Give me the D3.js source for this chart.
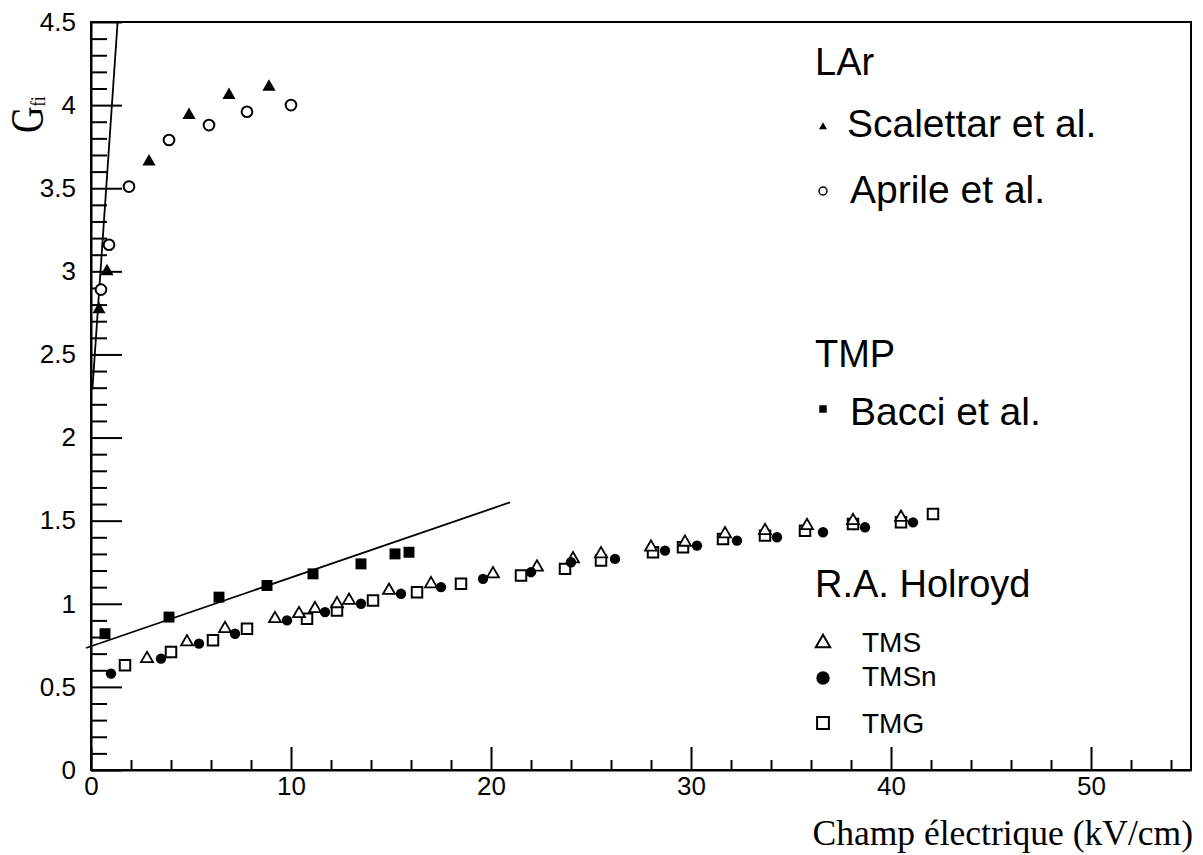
<!DOCTYPE html>
<html>
<head>
<meta charset="utf-8">
<script src="https://cdn.jsdelivr.net/npm/d3@7"></script>
<style>
  body { margin: 0; background: #fff; }
  svg { display: block; }
  .tick text { font-family: "Liberation Sans", Arial, sans-serif; font-size: 26px; fill: #000; }
  .legend { font-family: "Liberation Sans", Arial, sans-serif; fill: #000; }
</style>
</head>
<body>
<div id="chart"></div>
<script>
// LAr - Scalettar et al. (filled triangles)
const scalettarX = [0.4, 0.8, 2.9, 4.9, 6.9, 8.9];
const scalettarY = [2.77, 3.0, 3.66, 3.94, 4.06, 4.11];

// LAr - Aprile et al. (open circles)
const aprileX = [0.5, 0.9, 1.9, 3.9, 5.9, 7.8, 10.0];
const aprileY = [2.89, 3.16, 3.51, 3.79, 3.88, 3.96, 4.0];

// TMP - Bacci et al. (filled squares)
const bacciX = [0.7, 3.9, 6.4, 8.8, 11.1, 13.5, 15.2, 15.9];
const bacciY = [0.82, 0.92, 1.04, 1.11, 1.18, 1.24, 1.30, 1.31];

// R.A. Holroyd - TMS (open triangles)
const tmsX = [2.8, 4.8, 6.7, 9.2, 10.4, 11.2, 12.3, 12.9, 14.9, 17.0, 20.1, 22.3, 24.1, 25.5, 28.0, 29.7, 31.7, 33.7, 35.8, 38.1, 40.5];
const tmsY = [0.67, 0.77, 0.85, 0.91, 0.94, 0.97, 1.00, 1.02, 1.08, 1.12, 1.18, 1.22, 1.27, 1.30, 1.34, 1.37, 1.42, 1.44, 1.47, 1.50, 1.52];

// R.A. Holroyd - TMSn (filled circles)
const tmsnX = [1.0, 3.5, 5.4, 7.2, 9.8, 11.7, 13.5, 15.5, 17.5, 19.6, 22.0, 24.0, 26.2, 28.7, 30.3, 32.3, 34.3, 36.6, 38.7, 41.1];
const tmsnY = [0.58, 0.67, 0.76, 0.82, 0.90, 0.95, 1.00, 1.06, 1.10, 1.15, 1.19, 1.25, 1.27, 1.32, 1.35, 1.38, 1.40, 1.43, 1.46, 1.49];

// R.A. Holroyd - TMG (open squares)
const tmgX = [1.7, 4.0, 6.1, 7.8, 10.8, 12.3, 14.1, 16.3, 18.5, 21.5, 23.7, 25.5, 28.1, 29.6, 31.6, 33.7, 35.7, 38.1, 40.5, 42.1];
const tmgY = [0.63, 0.71, 0.78, 0.85, 0.91, 0.96, 1.02, 1.07, 1.12, 1.17, 1.21, 1.26, 1.31, 1.34, 1.39, 1.41, 1.44, 1.48, 1.49, 1.54];

// fitted straight lines (end points)
const larLine = [[0.07, 2.29], [1.33, 4.5]];
const tmpLine = [[-0.25, 0.734], [20.95, 1.61]];

// axis ticks
const xMajor = [0, 10, 20, 30, 40, 50];
const yMajor = [0, 0.5, 1, 1.5, 2, 2.5, 3, 3.5, 4, 4.5];
const xMinor = d3.range(2, 55, 2).filter(d => d % 10 !== 0);
const yMinor = d3.range(1, 45).map(d => d / 10).filter(d => Math.round(d * 10) % 5 !== 0);

const width = 1203, height = 855;
const margin = { top: 22, right: 12, bottom: 85, left: 91 };

const svg = d3.select("#chart").append("svg")
    .attr("width", width)
    .attr("height", height);

const x = d3.scaleLinear().domain([0, 55]).range([margin.left, width - margin.right]);
const y = d3.scaleLinear().domain([0, 4.5]).range([height - margin.bottom, margin.top]);

const zip = (xs, ys) => xs.map((d, i) => [d, ys[i]]);

// frame
svg.append("rect")
    .attr("x", x(0)).attr("y", y(4.5))
    .attr("width", x(55) - x(0)).attr("height", y(0) - y(4.5))
    .attr("fill", "none").attr("stroke", "#000").attr("stroke-width", 2);

// minor ticks
svg.append("g")
    .attr("transform", `translate(0,${y(0)})`)
    .call(d3.axisBottom(x).tickValues(xMinor).tickSizeInner(-10).tickSizeOuter(0).tickFormat(""))
    .call(g => g.select(".domain").remove())
    .call(g => g.selectAll("line").attr("stroke-width", 2));

svg.append("g")
    .attr("transform", `translate(${x(0)},0)`)
    .call(d3.axisLeft(y).tickValues(yMinor).tickSizeInner(-16).tickSizeOuter(0).tickFormat(""))
    .call(g => g.select(".domain").remove())
    .call(g => g.selectAll("line").attr("stroke-width", 2));

// major ticks with labels
svg.append("g")
    .attr("transform", `translate(0,${y(0)})`)
    .call(d3.axisBottom(x).tickValues(xMajor).tickSizeInner(-23).tickSizeOuter(0).tickPadding(7).tickFormat(d3.format("d")))
    .call(g => g.select(".domain").attr("stroke-width", 2))
    .call(g => g.selectAll("line").attr("stroke-width", 2));

svg.append("g")
    .attr("transform", `translate(${x(0)},0)`)
    .call(d3.axisLeft(y).tickValues(yMajor).tickSizeInner(-31).tickSizeOuter(0).tickPadding(15).tickFormat(d3.format("~g")))
    .call(g => g.select(".domain").attr("stroke-width", 2))
    .call(g => g.selectAll("line").attr("stroke-width", 2));

// axis titles
svg.append("text")
    .attr("x", x(55) + 2)
    .attr("y", 845)
    .attr("text-anchor", "end")
    .style("font-family", "'Liberation Serif', 'Times New Roman', serif")
    .style("font-size", "35.5px")
    .text("Champ électrique (kV/cm)");

const gLabel = svg.append("text")
    .attr("transform", "translate(43,133) rotate(-90) scale(0.8,1)")
    .style("font-family", "'Liberation Serif', 'Times New Roman', serif")
    .style("font-size", "46px");
gLabel.append("tspan").text("G");
gLabel.append("tspan").attr("dy", 2).style("font-size", "20px").text("fi");

// fitted lines
const line = d3.line().x(d => x(d[0])).y(d => y(d[1]));
[larLine, tmpLine].forEach(pts => {
    svg.append("path")
        .attr("d", line(pts))
        .attr("fill", "none")
        .attr("stroke", "#000")
        .attr("stroke-width", 1.8);
});

// markers
function drawSeries(pts, type, size, filled, sw) {
    const sym = d3.symbol().type(type).size(size);
    svg.append("g").selectAll("path")
        .data(pts)
        .join("path")
        .attr("transform", d => `translate(${x(d[0])},${y(d[1])})`)
        .attr("d", sym)
        .attr("fill", filled ? "#000" : "#fff")
        .attr("stroke", "#000")
        .attr("stroke-width", filled ? 0 : sw);
}

drawSeries(zip(tmgX, tmgY), d3.symbolSquare, 110, false, 2);
drawSeries(zip(tmsX, tmsY), d3.symbolTriangle, 62, false, 1.8);
drawSeries(zip(tmsnX, tmsnY), d3.symbolCircle, 85, true);
drawSeries(zip(bacciX, bacciY), d3.symbolSquare, 120, true);
drawSeries(zip(scalettarX, scalettarY), d3.symbolTriangle, 75, true);
drawSeries(zip(aprileX, aprileY), d3.symbolCircle, 90, false, 2);

// legend
const legend = svg.append("g").attr("class", "legend");

function legendHeader(txt, ty) {
    legend.append("text").attr("x", 815).attr("y", ty).style("font-size", "38px").text(txt);
}
function legendItem(txt, ty, my, type, size, filled, sw, tx, fs) {
    legend.append("path")
        .attr("transform", `translate(823,${my})`)
        .attr("d", d3.symbol().type(type).size(size))
        .attr("fill", filled ? "#000" : "#fff")
        .attr("stroke", "#000")
        .attr("stroke-width", filled ? 0 : sw);
    legend.append("text").attr("x", tx).attr("y", ty).style("font-size", fs).text(txt);
}

legendHeader("LAr", 75);
legendItem("Scalettar et al.", 137, 127, d3.symbolTriangle, 28, true, 0, 847, "39px");
legendItem("Aprile et al.", 203, 191, d3.symbolCircle, 50, false, 1.5, 850, "39px");
legendHeader("TMP", 367);
legendItem("Bacci et al.", 425, 409, d3.symbolSquare, 56, true, 0, 850, "39px");
legendHeader("R.A. Holroyd", 597);
legendItem("TMS", 652, 643, d3.symbolTriangle, 90, false, 2, 862, "28px");
legendItem("TMSn", 686, 678, d3.symbolCircle, 140, true, 0, 862, "28px");
legendItem("TMG", 733, 723, d3.symbolSquare, 140, false, 2, 862, "28px");
</script>
</body>
</html>
